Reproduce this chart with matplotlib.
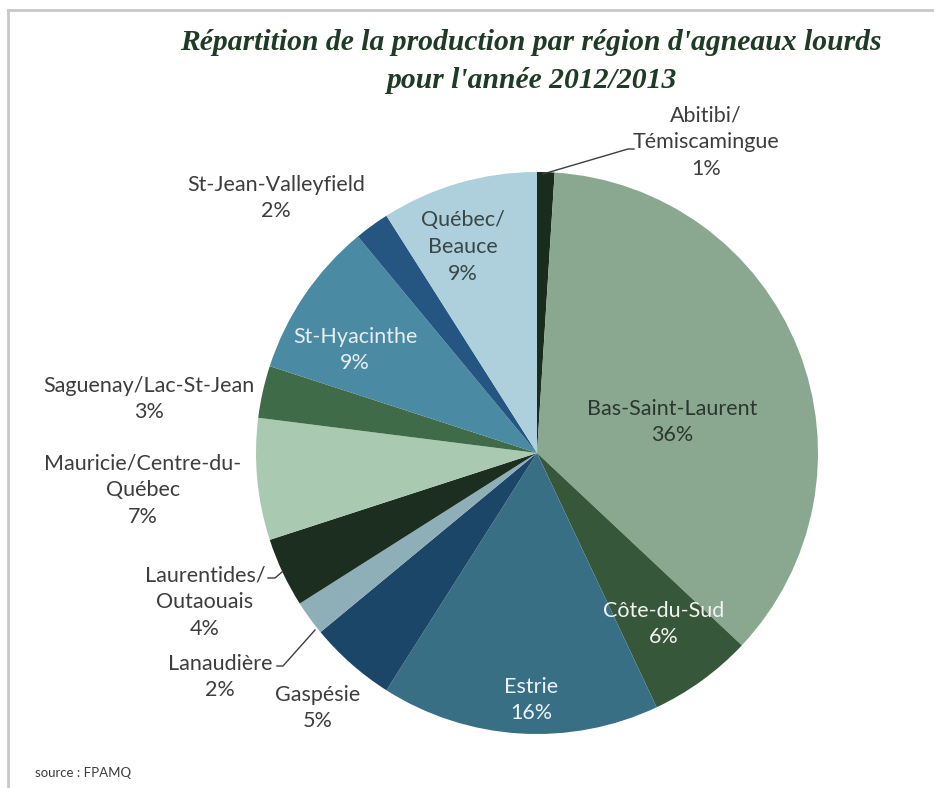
import matplotlib
matplotlib.use("Agg")
import matplotlib.pyplot as plt
from matplotlib.lines import Line2D

# data, clockwise from the top
regions = ["Abitibi/\nTémiscamingue", "Bas-Saint-Laurent", "Côte-du-Sud", "Estrie",
           "Gaspésie", "Lanaudière", "Laurentides/\nOutaouais", "Mauricie/Centre-du-\nQuébec",
           "Saguenay/Lac-St-Jean", "St-Hyacinthe", "St-Jean-Valleyfield", "Québec/\nBeauce"]
shares = [1, 36, 6, 16, 5, 2, 4, 7, 3, 9, 2, 9]
colors = ["#1a2c1e", "#8aa890", "#36573a", "#386f85", "#1b4668", "#8eaeb8",
          "#1c2e1f", "#a9c9b0", "#3f6b48", "#4a8aa3", "#255681", "#aecfdc"]

# label layout in pixels (x, y) and text colour
label_pos = [(706, 142), (672, 422), (664, 624), (531, 700), (318, 708), (220, 677),
             (205, 602), (143, 490), (149, 399), (355, 350), (276, 198), (463, 247)]
label_col = ["#3d3d3d", "#2b372e", "#f2f2f2", "#eef3f5", "#3d3d3d", "#3d3d3d",
             "#3d3d3d", "#3d3d3d", "#3d3d3d", "#e6eef2", "#3d3d3d", "#3a4745"]

W, H = 934, 788
fig = plt.figure(figsize=(W / 100, H / 100), dpi=100)
ax = fig.add_axes([0, 0, 1, 1])
ax.set_xlim(0, W)
ax.set_ylim(0, H)
ax.set_aspect("equal")
ax.axis("off")


def py(y):
    return H - y


ax.pie(shares, colors=colors, startangle=90, counterclock=False,
       center=(537, py(453)), radius=281, wedgeprops=dict(linewidth=0))
ax.set_xlim(0, W)
ax.set_ylim(0, H)

for name, val, (x, y), c in zip(regions, shares, label_pos, label_col):
    ax.text(x, py(y), f"{name}\n{val}%", ha="center", va="center", fontsize=15.5,
            family="Lato", color=c, linespacing=1.42)

# leader lines
ax.plot([543, 628, 634], [py(174), py(149), py(149)], color="#3d3d3d", lw=1)
ax.plot([268, 275, 282], [py(578), py(578), py(572)], color="#3d3d3d", lw=1)
ax.plot([277, 283, 315], [py(666), py(666), py(630)], color="#3d3d3d", lw=1)

# title
fig.text(531 / W, 1 - 42 / H, "Répartition de la production par région d'agneaux lourds",
         ha="center", va="center", fontsize=21.3, family="Liberation Serif",
         style="italic", weight="bold", color="#1f3a25")
fig.text(531 / W, 1 - 80 / H, "pour l'année 2012/2013",
         ha="center", va="center", fontsize=21.3, family="Liberation Serif",
         style="italic", weight="bold", color="#1f3a25")

fig.text(35 / W, 1 - 773 / H, "source : FPAMQ", ha="left", va="center",
         fontsize=9.5, family="Lato", color="#3d3d3d")

# frame at top and left
fig.add_artist(Line2D([8 / W, 1], [1 - 10 / H, 1 - 10 / H], color="#c8c8c8", lw=2))
fig.add_artist(Line2D([8 / W, 8 / W], [0, 1 - 10 / H], color="#c8c8c8", lw=2))

fig.savefig("out.png", dpi=100)
